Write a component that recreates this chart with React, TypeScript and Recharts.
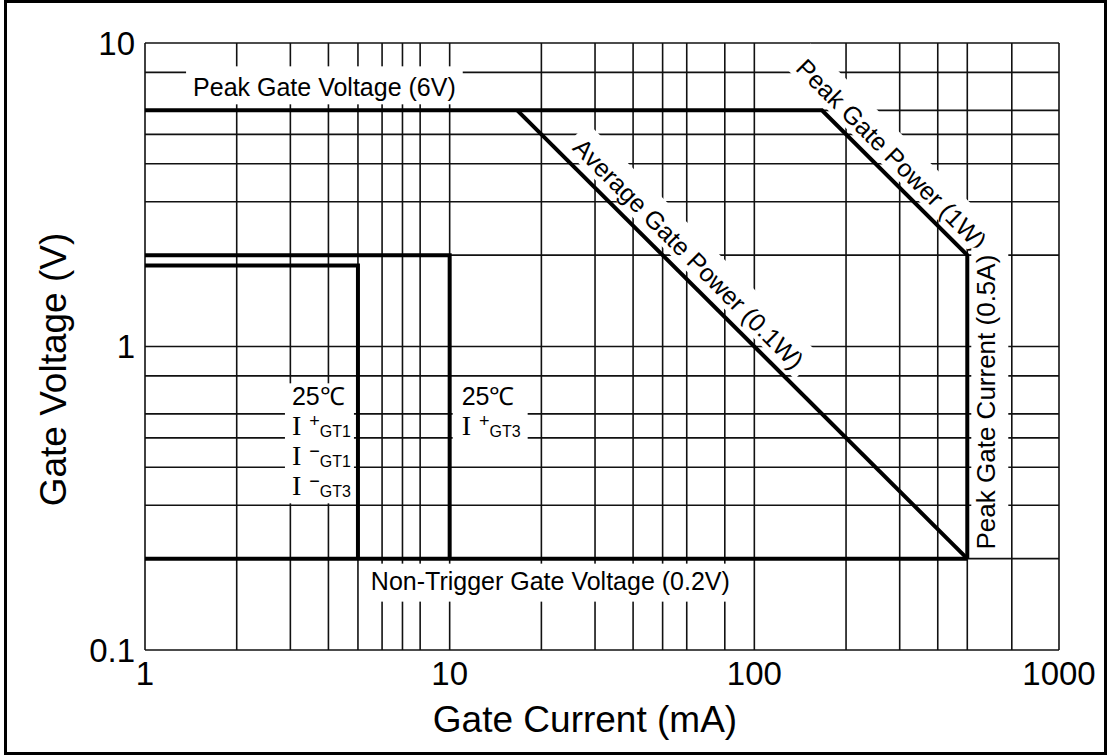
import React, { useLayoutEffect, useRef, useState } from "react";
import {
  LineChart,
  Line,
  XAxis,
  YAxis,
  CartesianGrid,
  ReferenceDot,
} from "recharts";

const FONT = '"Liberation Sans", Arial, Helvetica, sans-serif';
const SERIF = '"Liberation Serif", "Times New Roman", serif';

// axis ticks and grid values (log-log paper)
const xTicks = [1, 10, 100, 1000];
const yTicks = [0.1, 1, 10];
const xGrid = [
  1, 2, 3, 4, 5, 6, 7, 8, 9, 10, 20, 30, 40, 50, 60, 70, 80, 90, 100, 200, 300,
  400, 500, 600, 700, 800, 900, 1000,
];
const yGrid = [
  0.1, 0.2, 0.3, 0.4, 0.5, 0.6, 0.7, 0.8, 0.9, 1, 2, 3, 4, 5, 6, 7, 8, 9, 10,
];

// boundary curves, gate current (mA) vs gate voltage (V)
const peakLimit = [
  { i: 1, v: 6 },
  { i: 166.7, v: 6 },
  { i: 500, v: 2 },
  { i: 500, v: 0.2 },
];
const avgPower = [
  { i: 16.67, v: 6 },
  { i: 500, v: 0.2 },
];
const nonTrigger = [
  { i: 1, v: 0.2 },
  { i: 500, v: 0.2 },
];
const gt3Box = [
  { i: 1, v: 2 },
  { i: 10, v: 2 },
  { i: 10, v: 0.2 },
];
const gt1Box = [
  { i: 1, v: 1.85 },
  { i: 5, v: 1.85 },
  { i: 5, v: 0.2 },
];

const curves = [peakLimit, avgPower, nonTrigger, gt3Box, gt1Box];

// text annotations anchored on the curves; "side" = which edge of the text faces the curve
const notes = [
  { text: "Peak Gate Voltage (6V)", i: 3.88, v: 6, dx: 0, dy: -23, angle: 0, size: 25, side: "bottom" },
  { text: "Non-Trigger Gate Voltage (0.2V)", i: 21.4, v: 0.2, dx: 0, dy: 22, angle: 0, size: 25, side: "top" },
  { text: "Average Gate Power (0.1W)", i: 54.8, v: 1.82, dx: 14, dy: -14, angle: 45, size: 25, side: "bottom" },
  { text: "Peak Gate Power (1W)", i: 256, v: 3.9, dx: 13, dy: -13, angle: 45, size: 25, side: "bottom" },
  { text: "Peak Gate Current (0.5A)", i: 500, v: 0.656, dx: 19, dy: 0, angle: -90, size: 26, side: "top" },
];

const leftRows = [
  { sign: "+", sub: "GT1" },
  { sign: "\u2212", sub: "GT1" },
  { sign: "\u2212", sub: "GT3" },
];
const rightRows = [{ sign: "+", sub: "GT3" }];

function BoxedText({ cx, cy, dx, dy, angle, text, size, side }: any) {
  const ref = useRef<SVGTextElement>(null);
  const [box, setBox] = useState({ w: 0, h: 0 });
  useLayoutEffect(() => {
    if (ref.current) {
      const b = ref.current.getBBox();
      if (b.width !== box.w) setBox({ w: b.width, h: b.height });
    }
  });
  const near = angle === 0 ? 3 : 0;
  const padTop = side === "top" ? near : 7;
  const padBottom = side === "bottom" ? near : 7;
  return (
    <g transform={`translate(${cx + dx},${cy + dy}) rotate(${angle})`}>
      <rect
        x={-box.w / 2 - 7}
        y={-box.h / 2 - padTop}
        width={box.w + 14}
        height={box.h + padTop + padBottom}
        fill="#fff"
      />
      <text
        ref={ref}
        textAnchor="middle"
        dominantBaseline="central"
        fontFamily={FONT}
        fontSize={size}
        fill="#000"
      >
        {text}
      </text>
    </g>
  );
}

function ConditionBlock({ cx, cy, startX, boxX, boxW, boxH, rows }: any) {
  const x0 = cx + startX;
  return (
    <g>
      <rect x={cx + boxX} y={cy - 22} width={boxW} height={boxH} fill="#fff" />
      <text x={x0} y={cy} fontFamily={FONT} fontSize={25} fill="#000">
        25℃
      </text>
      {rows.map((r: any, k: number) => (
        <text key={k} x={x0} y={cy + 30 * (k + 1)} fontFamily={FONT} fill="#000">
          <tspan fontFamily={SERIF} fontSize={28}>
            I
          </tspan>
          <tspan dx={8} dy={-8} fontSize={18}>
            {r.sign}
          </tspan>
          <tspan dy={10} fontSize={16}>
            {r.sub}
          </tspan>
        </text>
      ))}
    </g>
  );
}

export default function App() {
  return (
    <div style={{ position: "absolute", left: 0, top: 0, width: 1109, height: 756 }}>
      <div
        style={{
          position: "absolute",
          left: 4,
          top: 0,
          width: 1103,
          height: 755,
          border: "3px solid #000",
          boxSizing: "border-box",
        }}
      />
      <div style={{ position: "absolute", left: 0, top: 0 }}>
        <LineChart
          width={1109}
          height={756}
          margin={{ top: 43, right: 50, left: 65, bottom: 26 }}
        >
          <CartesianGrid
            stroke="#111"
            strokeWidth={1.6}
            verticalValues={xGrid}
            horizontalValues={yGrid}
          />
          <XAxis
            dataKey="i"
            type="number"
            scale="log"
            domain={[1, 1000]}
            ticks={xTicks}
            allowDataOverflow
            axisLine={false}
            tickLine={false}
            tickSize={0}
            tickMargin={12}
            height={80}
            tick={{ fontSize: 33, fill: "#000", fontFamily: FONT }}
            label={{
              content: ({ viewBox }: any) => (
                <text
                  x={viewBox.x + viewBox.width / 2 - 17}
                  y={viewBox.y + 82}
                  textAnchor="middle"
                  fontFamily={FONT}
                  fontSize={37}
                  fill="#000"
                >
                  Gate Current (mA)
                </text>
              ),
            }}
          />
          <YAxis
            dataKey="v"
            type="number"
            scale="log"
            domain={[0.1, 10]}
            ticks={yTicks}
            allowDataOverflow
            axisLine={false}
            tickLine={false}
            tickSize={0}
            tickMargin={10}
            width={80}
            tick={{ fontSize: 33, fill: "#000", fontFamily: FONT }}
            label={{
              content: ({ viewBox }: any) => {
                const x = viewBox.x - 12;
                const y = viewBox.y + viewBox.height / 2 + 23;
                return (
                  <text
                    x={x}
                    y={y}
                    transform={`rotate(-90 ${x} ${y})`}
                    textAnchor="middle"
                    dominantBaseline="central"
                    fontFamily={FONT}
                    fontSize={37}
                    fill="#000"
                  >
                    Gate Voltage (V)
                  </text>
                );
              },
            }}
          />
          {curves.map((d, k) => (
            <Line
              key={k}
              data={d}
              dataKey="v"
              type="linear"
              stroke="#000"
              strokeWidth={4}
              strokeLinejoin="miter"
              dot={false}
              activeDot={false}
              isAnimationActive={false}
            />
          ))}
          {notes.map((n, k) => (
            <ReferenceDot
              key={"n" + k}
              x={n.i}
              y={n.v}
              r={0}
              shape={(p: any) => (
                <BoxedText
                  cx={p.cx}
                  cy={p.cy}
                  dx={n.dx}
                  dy={n.dy}
                  angle={n.angle}
                  text={n.text}
                  size={n.size}
                  side={n.side}
                />
              )}
            />
          ))}
          <ReferenceDot
            x={5}
            y={0.64}
            r={0}
            shape={(p: any) => (
              <ConditionBlock cx={p.cx} cy={p.cy} startX={-66} boxX={-73} boxW={69} boxH={120} rows={leftRows} />
            )}
          />
          <ReferenceDot
            x={10}
            y={0.64}
            r={0}
            shape={(p: any) => (
              <ConditionBlock cx={p.cx} cy={p.cy} startX={12} boxX={3} boxW={75} boxH={64} rows={rightRows} />
            )}
          />
        </LineChart>
      </div>
    </div>
  );
}
